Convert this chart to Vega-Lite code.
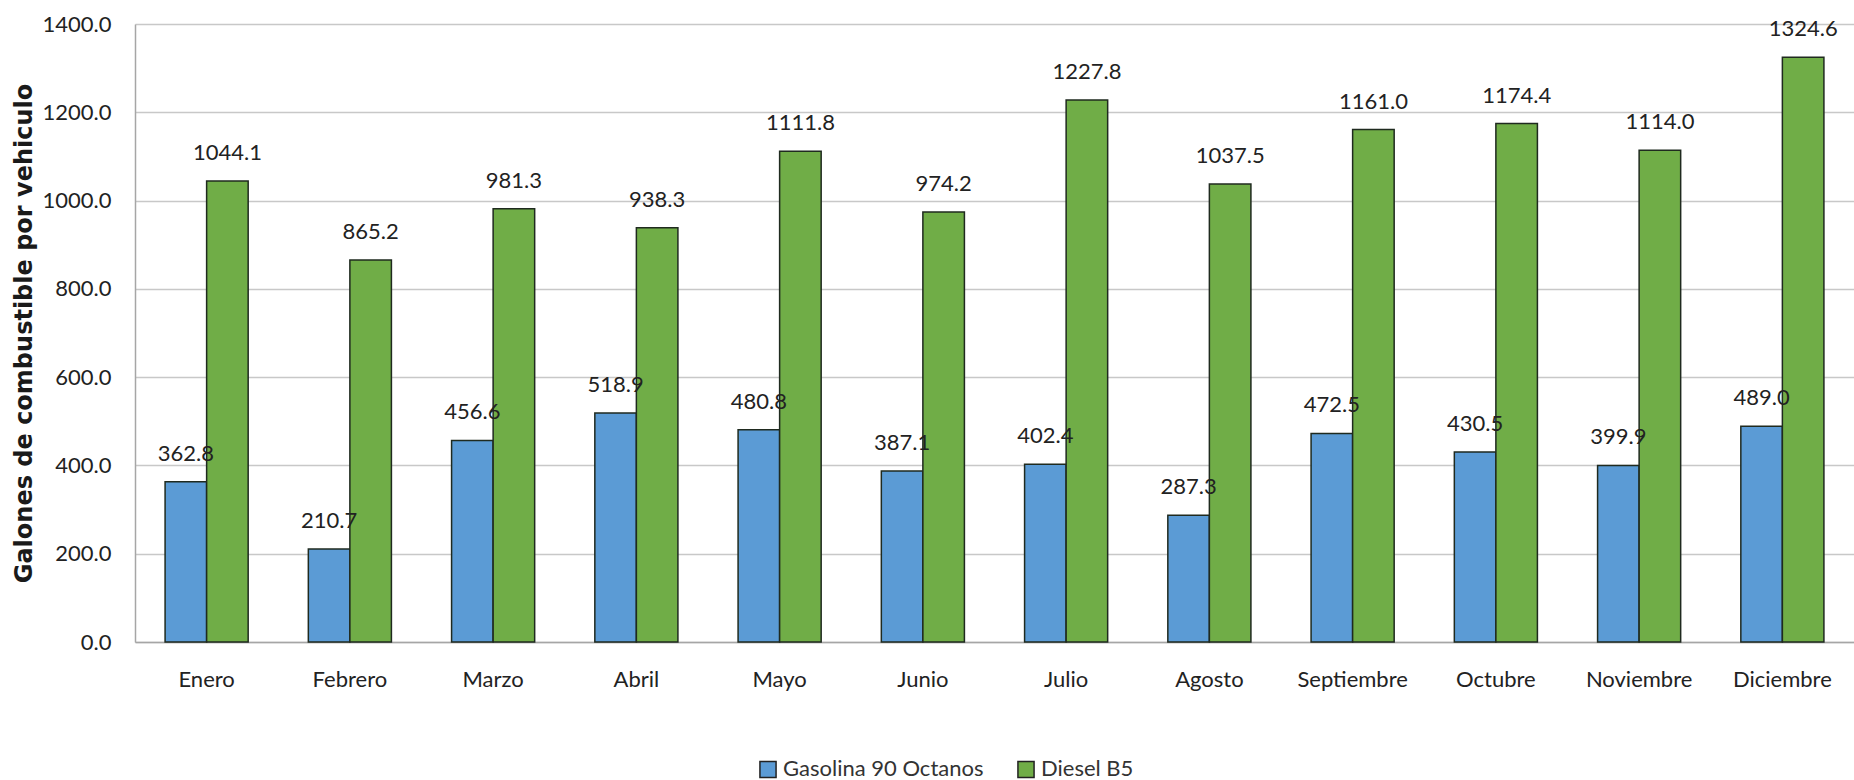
{
  "$schema": "https://vega.github.io/schema/vega-lite/v6.json",
  "autosize": {"type": "none"},
  "width": 1719,
  "height": 618,
  "padding": {"left": 135, "top": 24, "right": 0, "bottom": 138},
  "background": "white",
  "config": {
    "view": {"stroke": null},
    "font": "Lato",
    "text": {"font": "Lato"}
  },
  "data": {
    "values": [
      {"mes": "Enero", "serie": "Gasolina 90 Octanos", "valor": 362.8},
      {"mes": "Febrero", "serie": "Gasolina 90 Octanos", "valor": 210.7},
      {"mes": "Marzo", "serie": "Gasolina 90 Octanos", "valor": 456.6},
      {"mes": "Abril", "serie": "Gasolina 90 Octanos", "valor": 518.9},
      {"mes": "Mayo", "serie": "Gasolina 90 Octanos", "valor": 480.8},
      {"mes": "Junio", "serie": "Gasolina 90 Octanos", "valor": 387.1},
      {"mes": "Julio", "serie": "Gasolina 90 Octanos", "valor": 402.4},
      {"mes": "Agosto", "serie": "Gasolina 90 Octanos", "valor": 287.3},
      {"mes": "Septiembre", "serie": "Gasolina 90 Octanos", "valor": 472.5},
      {"mes": "Octubre", "serie": "Gasolina 90 Octanos", "valor": 430.5},
      {"mes": "Noviembre", "serie": "Gasolina 90 Octanos", "valor": 399.9},
      {"mes": "Diciembre", "serie": "Gasolina 90 Octanos", "valor": 489.0},
      {"mes": "Enero", "serie": "Diesel B5", "valor": 1044.1},
      {"mes": "Febrero", "serie": "Diesel B5", "valor": 865.2},
      {"mes": "Marzo", "serie": "Diesel B5", "valor": 981.3},
      {"mes": "Abril", "serie": "Diesel B5", "valor": 938.3},
      {"mes": "Mayo", "serie": "Diesel B5", "valor": 1111.8},
      {"mes": "Junio", "serie": "Diesel B5", "valor": 974.2},
      {"mes": "Julio", "serie": "Diesel B5", "valor": 1227.8},
      {"mes": "Agosto", "serie": "Diesel B5", "valor": 1037.5},
      {"mes": "Septiembre", "serie": "Diesel B5", "valor": 1161.0},
      {"mes": "Octubre", "serie": "Diesel B5", "valor": 1174.4},
      {"mes": "Noviembre", "serie": "Diesel B5", "valor": 1114.0},
      {"mes": "Diciembre", "serie": "Diesel B5", "valor": 1324.6}
    ]
  },
  "encoding": {
    "x": {
      "field": "mes",
      "type": "nominal",
      "sort": ["Enero","Febrero","Marzo","Abril","Mayo","Junio","Julio","Agosto","Septiembre","Octubre","Noviembre","Diciembre"],
      "scale": {"paddingInner": 0.42, "paddingOuter": 0.21},
      "axis": {
        "title": null,
        "labelAngle": 0,
        "labelFontSize": 22,
        "labelColor": "#222222",
        "labelPadding": 27,
        "ticks": false,
        "domainColor": "#a6a6a6",
        "domainWidth": 1.5,
        "grid": false
      }
    },
    "xOffset": {
      "field": "serie",
      "type": "nominal",
      "sort": ["Gasolina 90 Octanos", "Diesel B5"],
      "scale": {"paddingInner": 0, "paddingOuter": 0}
    },
    "y": {
      "field": "valor",
      "type": "quantitative",
      "scale": {"domain": [0, 1400], "nice": false},
      "axis": {
        "title": "Galones de combustible por vehiculo",
        "titleFont": "DejaVu Sans",
        "titleFontWeight": "bold",
        "titleFontSize": 24,
        "titleColor": "#1a1a1a",
        "titlePadding": 6,
        "values": [0, 200, 400, 600, 800, 1000, 1200, 1400],
        "format": ".1f",
        "labelFontSize": 22,
        "labelColor": "#222222",
        "labelPadding": 24,
        "ticks": false,
        "domainColor": "#a6a6a6",
        "domainWidth": 1.5,
        "gridColor": "#c8c8c8",
        "gridWidth": 1.5
      }
    }
  },
  "layer": [
    {
      "mark": {"type": "bar", "stroke": "#1f2a1f", "strokeWidth": 1.5},
      "encoding": {
        "color": {
          "field": "serie",
          "type": "nominal",
          "sort": ["Gasolina 90 Octanos", "Diesel B5"],
          "scale": {"domain": ["Gasolina 90 Octanos", "Diesel B5"], "range": ["#5B9BD5", "#70AD47"]},
          "legend": {
            "title": null,
            "orient": "none",
            "legendX": 622,
            "legendY": 734,
            "direction": "horizontal",
            "symbolType": "square",
            "symbolSize": 260,
            "symbolStrokeColor": "#222222",
            "symbolStrokeWidth": 1.5,
            "labelFontSize": 22,
            "labelLimit": 400,
            "labelColor": "#333333",
            "labelFont": "Lato",
            "columnPadding": 30,
            "labelOffset": 4
          }
        }
      }
    },
    {
      "mark": {"type": "text", "baseline": "alphabetic", "dy": -21, "fontSize": 22, "color": "#222222"},
      "encoding": {
        "text": {"field": "valor", "type": "quantitative", "format": ".1f"}
      }
    }
  ]
}
